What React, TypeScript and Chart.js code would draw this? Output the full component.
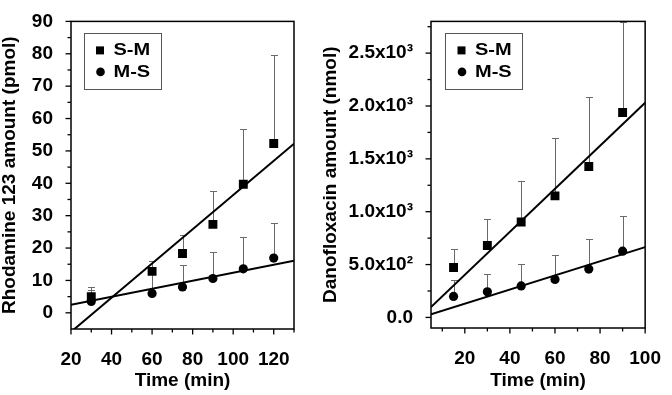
import { useEffect, useRef } from "react";
import { Chart, registerables } from "chart.js";

Chart.register(...registerables);

// ---------- Left panel: Rhodamine 123 ----------
const rhoTimes = [30, 60, 75, 90, 105, 120];
const rhoSM = [5.0, 12.8, 18.3, 27.3, 39.7, 52.3];
const rhoSMUpper = [8.1, 16.0, 24.0, 37.5, 56.7, 79.5];
const rhoMS = [3.5, 6.0, 8.0, 10.6, 13.6, 16.9];
const rhoMSUpper = [7.0, 12.0, 14.8, 18.8, 23.4, 27.8];
const rhoFitSM = [
  [20, -5.9],
  [130, 52.2],
];
const rhoFitMS = [
  [20, 2.5],
  [130, 16.1],
];
const rhoXTicks = [20, 40, 60, 80, 100, 120];
const rhoXMinor = [30, 50, 70, 90, 110, 130];
const rhoYTicks = [0, 10, 20, 30, 40, 50, 60, 70, 80, 90];
const rhoYMinor = [5, 15, 25, 35, 45, 55, 65, 75, 85];

// ---------- Right panel: Danofloxacin ----------
const danoTimes = [15, 30, 45, 60, 75, 90];
const danoSM = [472, 681, 902, 1150, 1428, 1938];
const danoSMUpper = [648, 928, 1286, 1695, 2085, 2790];
const danoMS = [199, 242, 298, 359, 457, 627];
const danoMSUpper = [350, 407, 507, 590, 745, 958];
const danoFitSM = [
  [5, 98],
  [100, 2030],
];
const danoFitMS = [
  [5, 30],
  [100, 665],
];
const danoXTicks = [20, 40, 60, 80, 100];
const danoXMinor = [10, 30, 50, 70, 90];
const danoYTicks = [0, 500, 1000, 1500, 2000, 2500];
const danoYLabels = ["0.0", "5.0x10²", "1.0x10³", "1.5x10³", "2.0x10³", "2.5x10³"];
const danoYMinor = [250, 750, 1250, 1750, 2250, 2750];

const seriesLabels = ["S-M", "M-S"];

const FONT = "'Liberation Sans', Arial, Helvetica, sans-serif";

const decorPlugin = {
  id: "decor",
  beforeDatasetsDraw(chart: any, _args: any, opts: any) {
    const { ctx, chartArea } = chart;
    const xs = chart.scales.x;
    const ys = chart.scales.y;
    ctx.save();
    ctx.beginPath();
    ctx.rect(chartArea.left, chartArea.top, chartArea.right - chartArea.left, chartArea.bottom - chartArea.top);
    ctx.clip();
    ctx.strokeStyle = "#6a6a6a";
    ctx.lineWidth = 1;
    (opts.errors || []).forEach((e: any) => {
      e.times.forEach((t: number, i: number) => {
        const px = Math.round(xs.getPixelForValue(t)) + 0.5;
        const p0 = ys.getPixelForValue(e.values[i]);
        const p1 = Math.round(ys.getPixelForValue(e.upper[i])) + 0.5;
        ctx.beginPath();
        ctx.moveTo(px, p0);
        ctx.lineTo(px, p1);
        ctx.moveTo(px - 3.5, p1);
        ctx.lineTo(px + 3.5, p1);
        ctx.stroke();
      });
    });
    ctx.restore();
  },
  afterDraw(chart: any, _args: any, opts: any) {
    const { ctx, chartArea } = chart;
    const { left, right, top, bottom } = chartArea;
    const xs = chart.scales.x;
    const ys = chart.scales.y;
    ctx.save();
    // frame
    ctx.strokeStyle = "#000";
    ctx.lineWidth = 1.5;
    ctx.strokeRect(left, top, right - left, bottom - top);
    // ticks
    ctx.lineWidth = 1.3;
    const xTick = (v: number, len: number) => {
      const px = xs.getPixelForValue(v);
      ctx.beginPath();
      ctx.moveTo(px, bottom);
      ctx.lineTo(px, bottom + len);
      ctx.stroke();
    };
    const yTick = (v: number, len: number) => {
      const py = ys.getPixelForValue(v);
      ctx.beginPath();
      ctx.moveTo(left, py);
      ctx.lineTo(left - len, py);
      ctx.stroke();
    };
    opts.xMajor.forEach((v: number) => xTick(v, 5.5));
    opts.xMinor.forEach((v: number) => xTick(v, 3.5));
    opts.yMajor.forEach((v: number) => yTick(v, 5.5));
    opts.yMinor.forEach((v: number) => yTick(v, 3.5));
    // legend
    const lx = left + opts.legendDx;
    const ly = top + 12;
    ctx.strokeStyle = "#555";
    ctx.lineWidth = 1;
    ctx.strokeRect(Math.round(lx) + 0.5, Math.round(ly) + 0.5, 77, 56);
    ctx.fillStyle = "#000";
    ctx.fillRect(lx + 12.5, ly + 13, 8, 8);
    ctx.beginPath();
    ctx.arc(lx + 17, ly + 38.5, 4.3, 0, Math.PI * 2);
    ctx.fill();
    ctx.font = "bold 16px " + FONT;
    ctx.textBaseline = "middle";
    ctx.textAlign = "left";
    const txt = (s: string, x: number, y: number) => {
      ctx.save();
      ctx.translate(x, y);
      ctx.scale(1.25, 1);
      ctx.fillText(s, 0, 0);
      ctx.restore();
    };
    txt(seriesLabels[0], lx + 30, ly + 17.5);
    txt(seriesLabels[1], lx + 30, ly + 39.5);
    ctx.restore();
  },
};

function pts(xs: number[], ys: number[]) {
  return xs.map((x, i) => ({ x, y: ys[i] }));
}
function linePts(arr: number[][]) {
  return arr.map((p) => ({ x: p[0], y: p[1] }));
}

function makeConfig(p: any) {
  const tickFont = { family: FONT, size: 19, weight: "bold" as const };
  const titleFont = { family: FONT, size: 19, weight: "bold" as const, lineHeight: 1 };
  return {
    type: "scatter" as const,
    data: {
      datasets: [
        {
          label: seriesLabels[0],
          data: pts(p.times, p.sm),
          pointStyle: "rect",
          pointRadius: 6.3,
          pointBorderWidth: 0,
          backgroundColor: "#000",
          borderColor: "#000",
        },
        {
          label: seriesLabels[1],
          data: pts(p.times, p.ms),
          pointStyle: "circle",
          pointRadius: 4.6,
          pointBorderWidth: 0,
          backgroundColor: "#000",
          borderColor: "#000",
        },
        {
          label: "fit S-M",
          data: linePts(p.fitSM),
          showLine: true,
          pointRadius: 0,
          borderColor: "#000",
          borderWidth: 2,
          fill: false,
        },
        {
          label: "fit M-S",
          data: linePts(p.fitMS),
          showLine: true,
          pointRadius: 0,
          borderColor: "#000",
          borderWidth: 2,
          fill: false,
        },
      ],
    },
    options: {
      responsive: false,
      animation: false as const,
      devicePixelRatio: 1,
      events: [],
      layout: { padding: { left: 0, top: 13, right: p.padRight, bottom: 0 } },
      plugins: {
        legend: { display: false },
        tooltip: { enabled: false },
        decor: {
          errors: [
            { times: p.times, values: p.sm, upper: p.smUpper },
            { times: p.times, values: p.ms, upper: p.msUpper },
          ],
          xMajor: p.xTicks,
          xMinor: p.xMinor,
          yMajor: p.yTicks,
          yMinor: p.yMinor,
          legendDx: p.legendDx,
        },
      },
      scales: {
        x: {
          type: "linear",
          min: p.xMin,
          max: p.xMax,
          grid: { display: false },
          border: { display: false },
          ticks: {
            font: tickFont,
            color: "#000",
            padding: 11,
            autoSkip: false,
            maxRotation: 0,
            minRotation: 0,
            callback: (v: any) => String(v),
          },
          afterBuildTicks: (s: any) => {
            s.ticks = p.xTicks.map((v: number) => ({ value: v }));
          },
          afterFit: (s: any) => {
            s.height = p.xAxisHeight;
          },
          title: {
            display: true,
            text: "Time (min)",
            font: titleFont,
            color: "#000",
            padding: { top: 0, bottom: 5 },
          },
        },
        y: {
          type: "linear",
          min: p.yMin,
          max: p.yMax,
          grid: { display: false },
          border: { display: false },
          ticks: {
            font: tickFont,
            color: "#000",
            padding: 10,
            autoSkip: false,
            callback: (v: any) => p.yLabel(v),
          },
          afterBuildTicks: (s: any) => {
            s.ticks = p.yTicks.map((v: number) => ({ value: v }));
          },
          afterFit: (s: any) => {
            s.width = p.yAxisWidth;
          },
          title: {
            display: true,
            text: p.yTitle,
            font: titleFont,
            color: "#000",
            padding: { top: p.yTitlePad, bottom: 0 },
          },
        },
      },
    },
    plugins: [decorPlugin],
  };
}

const leftParams = {
  times: rhoTimes,
  sm: rhoSM,
  smUpper: rhoSMUpper,
  ms: rhoMS,
  msUpper: rhoMSUpper,
  fitSM: rhoFitSM,
  fitMS: rhoFitMS,
  xTicks: rhoXTicks,
  xMinor: rhoXMinor,
  yTicks: rhoYTicks,
  yMinor: rhoYMinor,
  xMin: 20,
  xMax: 130,
  yMin: -5,
  yMax: 90,
  yLabel: (v: number) => String(v),
  yTitle: "Rhodamine 123 amount (pmol)",
  yTitlePad: 0,
  yAxisWidth: 71,
  xAxisHeight: 66,
  padRight: 42,
  legendDx: 12.5,
};

const rightParams = {
  times: danoTimes,
  sm: danoSM,
  smUpper: danoSMUpper,
  ms: danoMS,
  msUpper: danoMSUpper,
  fitSM: danoFitSM,
  fitMS: danoFitMS,
  xTicks: danoXTicks,
  xMinor: danoXMinor,
  yTicks: danoYTicks,
  yMinor: danoYMinor,
  xMin: 5,
  xMax: 100,
  yMin: -100,
  yMax: 2800,
  yLabel: (v: number) => {
    const i = danoYTicks.indexOf(v);
    return i >= 0 ? danoYLabels[i] : "";
  },
  yTitle: "Danofloxacin amount (nmol)",
  yTitlePad: 5.5,
  yAxisWidth: 115,
  xAxisHeight: 67,
  padRight: 18,
  legendDx: 14,
};

export default function App() {
  const leftRef = useRef<HTMLCanvasElement>(null);
  const rightRef = useRef<HTMLCanvasElement>(null);

  useEffect(() => {
    const c1 = new Chart(leftRef.current as HTMLCanvasElement, makeConfig(leftParams) as any);
    const c2 = new Chart(rightRef.current as HTMLCanvasElement, makeConfig(rightParams) as any);
    return () => {
      c1.destroy();
      c2.destroy();
    };
  }, []);

  return (
    <div style={{ position: "absolute", left: 0, top: 0, width: 672, height: 395, background: "#fff" }}>
      <canvas
        ref={leftRef}
        width={336}
        height={395}
        style={{ position: "absolute", left: 0, top: 0, width: 336, height: 395 }}
      />
      <canvas
        ref={rightRef}
        width={356}
        height={395}
        style={{ position: "absolute", left: 316, top: 0, width: 356, height: 395 }}
      />
    </div>
  );
}
